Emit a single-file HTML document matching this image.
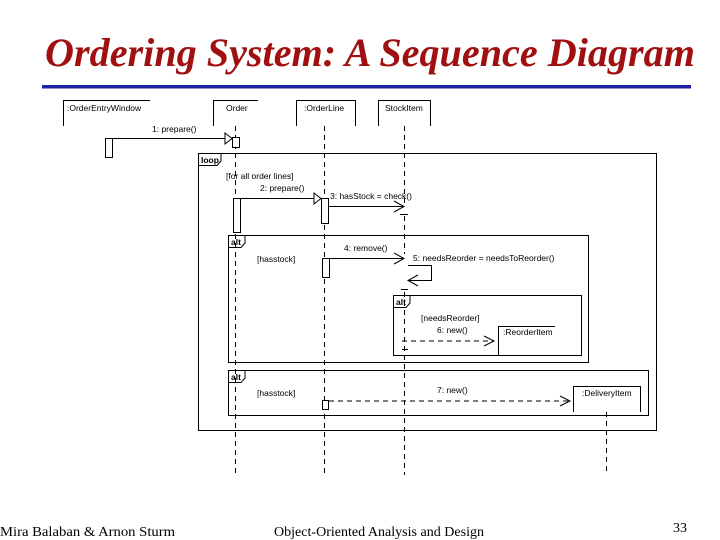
<!DOCTYPE html>
<html><head><meta charset="utf-8"><style>
html,body{margin:0;padding:0;background:#fff;}
svg{display:block;}
</style></head><body>
<svg width="720" height="540" viewBox="0 0 720 540" xmlns="http://www.w3.org/2000/svg">
<text x="45" y="66" font-family="Liberation Serif, serif" font-size="40" font-style="italic" font-weight="bold" fill="#a01010" textLength="650" lengthAdjust="spacingAndGlyphs">Ordering System: A Sequence Diagram</text>
<rect x="42" y="85" width="649" height="3.5" fill="#2020a0"/>
<g font-family="Liberation Sans, sans-serif" font-size="8.5" fill="#000">
<g stroke="#000" stroke-width="1" fill="none">
<path d="M63.5,126 V100.5 H150"/>
<path d="M213.5,126 V100.5 H258"/>
<path d="M296.5,126 V100.5 H355.5 V126"/>
<path d="M378.5,126 V100.5 H430.5 V126"/>
<g stroke-dasharray="5,4">
<path d="M235.5,126 V475"/>
<path d="M324.5,126 V475"/>
<path d="M404.5,126 V203"/>
<path d="M404.5,216 V254"/>
<path d="M404.5,292 V475"/>
<path d="M606.5,412 V475"/>
<path d="M402,341 H494"/>
<path d="M329,401 H569"/>
</g>
<g fill="#fff">
<rect x="105.5" y="138.5" width="7" height="19"/>
<rect x="232.5" y="137.5" width="7" height="10"/>
<rect x="233.5" y="198.5" width="7" height="34"/>
<rect x="321.5" y="198.5" width="7" height="25"/>
<rect x="322.5" y="258.5" width="7" height="19"/>
<rect x="322.5" y="400.5" width="6" height="9"/>
</g>
<path d="M112.5,138.5 H225"/><path d="M225,133 L232,138.5 L225,144 Z"/>
<path d="M240.5,198.5 H314"/><path d="M314,193 L321,198.5 L314,204 Z"/>
<path d="M328.5,206.5 H404"/><path d="M394,201 L404,206.5 L394,212"/>
<path d="M400,214.5 H408"/>
<path d="M329.5,258.5 H404"/><path d="M394,253 L404,258.5 L394,264"/>
<path d="M408,265.5 H431.5 V280.5 H408"/><path d="M418,275 L408,280.5 L418,286"/>
<path d="M401,289.5 H408"/>
<path d="M484,336 L494,341 L484,346"/>
<path d="M402,349.5 H408"/>
<path d="M560,396 L570,401 L560,406"/>
<rect x="198.5" y="153.5" width="458" height="277"/>
<path d="M198.5,165.5 H217 L221,161 V153.5"/>
<rect x="228.5" y="235.5" width="360" height="127"/>
<path d="M228.5,247.5 H241 L245,243 V235.5"/>
<rect x="393.5" y="295.5" width="188" height="60"/>
<path d="M393.5,307.5 H406 L410,303 V295.5"/>
<rect x="228.5" y="370.5" width="420" height="45"/>
<path d="M228.5,382.5 H241 L245,378 V370.5"/>
<path d="M498.5,355 V326.5 H555"/>
<path d="M573.5,412 V386.5 H640.5 V412"/>
</g>
<text x="67" y="111">:OrderEntryWindow</text>
<text x="226" y="111">Order</text>
<text x="304" y="111">:OrderLine</text>
<text x="385" y="111">StockItem</text>
<text x="152" y="132">1: prepare()</text>
<text x="201" y="163" font-weight="bold">loop</text>
<text x="226" y="179">[for all order lines]</text>
<text x="260" y="191">2: prepare()</text>
<text x="330" y="199">3: hasStock = check()</text>
<text x="231" y="245" font-weight="bold">alt</text>
<text x="257" y="262">[hasstock]</text>
<text x="344" y="251">4: remove()</text>
<text x="413" y="261">5: needsReorder = needsToReorder()</text>
<text x="396" y="305" font-weight="bold">alt</text>
<text x="421" y="321">[needsReorder]</text>
<text x="437" y="333">6: new()</text>
<text x="503" y="335">:ReorderItem</text>
<text x="231" y="380" font-weight="bold">alt</text>
<text x="257" y="396">[hasstock]</text>
<text x="437" y="393">7: new()</text>
<text x="582" y="396">:DeliveryItem</text>
</g>
<g font-family="Liberation Serif, serif" font-size="14" fill="#000">
<text x="0" y="536" textLength="175" lengthAdjust="spacingAndGlyphs">Mira Balaban  &amp;  Arnon Sturm</text>
<text x="274" y="536" textLength="210" lengthAdjust="spacingAndGlyphs">Object-Oriented Analysis and Design</text>
<text x="673" y="532">33</text>
</g>
</svg>
</body></html>
